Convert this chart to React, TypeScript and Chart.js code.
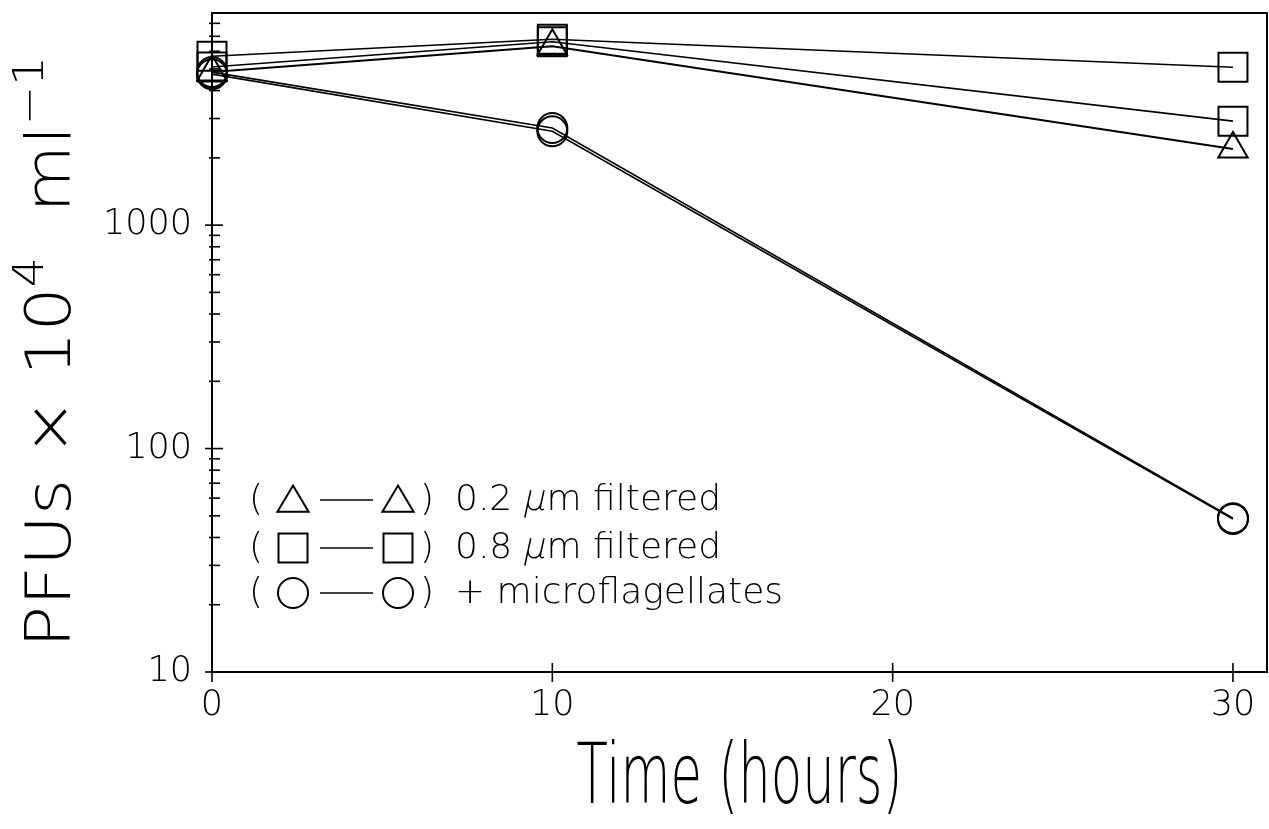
import React, { useEffect, useRef } from 'react';
import { Chart, registerables } from 'chart.js';

Chart.register(...registerables);

// ---- data ----
const hours = [0, 10, 30];
const squareA = [5700, 6790, 5090]; // 0.8 µm filtered, replicate A
const squareB = [5100, 6620, 2920]; // 0.8 µm filtered, replicate B
const triangle = [4840, 6320, 2190]; // 0.2 µm filtered
const circleA = [4840, 2720, 48.8]; // + microflagellates, replicate A
const circleB = [4740, 2630, 48.4]; // + microflagellates, replicate B

const xTickValues = [0, 10, 20, 30];
const yLabelValues = [10, 100, 1000];
const yMinorValues = [20, 30, 40, 50, 60, 70, 80, 90, 200, 300, 400, 500, 600, 700, 800, 900, 2000, 3000, 4000, 5000, 6000, 7000, 8000];

const legendLabels = [
  ['0.2 ', 'μ', 'm filtered'],
  ['0.8 ', 'μ', 'm filtered'],
  ['+ microflagellates', '', ''],
];
const legendShapes = ['triangle', 'rect', 'circle'];
const xTitle = 'Time (hours)';

const FONT = '"DejaVu Sans", "Open Sans", sans-serif';

function shapePath(ctx: CanvasRenderingContext2D, shape: string, x: number, y: number) {
  ctx.beginPath();
  if (shape === 'triangle') {
    const r = 18;
    ctx.moveTo(x, y - r * 0.8);
    ctx.lineTo(x + r * 0.866, y + r * 0.65);
    ctx.lineTo(x - r * 0.866, y + r * 0.65);
    ctx.closePath();
  } else if (shape === 'rect') {
    ctx.rect(x - 14.5, y - 14.5, 29, 29);
  } else {
    ctx.arc(x, y, 15, 0, Math.PI * 2);
  }
  ctx.stroke();
}

type Piece = { text: string; size: number; rise: number };

function drawFitted(ctx: CanvasRenderingContext2D, pieces: Piece[], width: number) {
  const widths: number[] = [];
  let natural = 0;
  for (const p of pieces) {
    ctx.font = `200 ${p.size}px ${FONT}`;
    const w = ctx.measureText(p.text).width;
    widths.push(w);
    natural += w;
  }
  const sx = width / natural;
  ctx.save();
  ctx.scale(sx, 1);
  let x = -natural / 2;
  pieces.forEach((p, i) => {
    ctx.font = `200 ${p.size}px ${FONT}`;
    ctx.fillText(p.text, x, -p.rise);
    x += widths[i];
  });
  ctx.restore();
}

const decorPlugin = {
  id: 'decor',
  afterDraw(chart: any) {
    const { ctx, chartArea, scales } = chart;
    const { left, right, top, bottom } = chartArea;
    const xs = scales.x;
    const ys = scales.y;
    ctx.save();
    ctx.strokeStyle = '#000';
    ctx.fillStyle = '#000';
    // frame
    ctx.lineWidth = 2;
    ctx.strokeRect(left, top, right - left, bottom - top);
    // y ticks (crossing the axis)
    ctx.lineWidth = 1.6;
    for (const v of yLabelValues) {
      const y = ys.getPixelForValue(v);
      ctx.beginPath();
      ctx.moveTo(left - 7, y);
      ctx.lineTo(left + 11, y);
      ctx.stroke();
    }
    for (const v of yMinorValues) {
      const y = ys.getPixelForValue(v);
      ctx.beginPath();
      ctx.moveTo(left - 3, y);
      ctx.lineTo(left + 8, y);
      ctx.stroke();
    }
    for (const v of xTickValues) {
      const x = xs.getPixelForValue(v);
      ctx.beginPath();
      ctx.moveTo(x, bottom - 9);
      ctx.lineTo(x, bottom + 10);
      ctx.stroke();
    }

    // x title
    ctx.textAlign = 'left';
    ctx.textBaseline = 'alphabetic';
    ctx.save();
    ctx.translate((left + right) / 2, 803);
    drawFitted(ctx, [{ text: xTitle, size: 84, rise: 0 }], 326);
    ctx.restore();

    // y title (rotated)
    ctx.save();
    ctx.translate(70, 352);
    ctx.rotate(-Math.PI / 2);
    drawFitted(
      ctx,
      [
        { text: 'PFUs × 10', size: 62, rise: 0 },
        { text: '4', size: 42, rise: 27 },
        { text: '  ml', size: 62, rise: 0 },
        { text: '−1', size: 42, rise: 27 },
      ],
      592
    );
    ctx.restore();

    // legend
    const rowY = [500, 548, 593];
    ctx.lineWidth = 2;
    rowY.forEach((ry, i) => {
      ctx.font = `200 36px ${FONT}`;
      ctx.textBaseline = 'middle';
      ctx.textAlign = 'left';
      ctx.fillText('(', 249, ry + 1);
      shapePath(ctx, legendShapes[i], 293, ry);
      ctx.beginPath();
      ctx.lineWidth = 1.5;
      ctx.moveTo(320, ry);
      ctx.lineTo(373, ry);
      ctx.stroke();
      ctx.lineWidth = 2;
      shapePath(ctx, legendShapes[i], 398, ry);
      ctx.fillText(')', 420, ry + 1);
      let x = 455;
      const parts = legendLabels[i];
      parts.forEach((t, j) => {
        if (!t) return;
        ctx.font = `200 36px ${FONT}`;
        if (j === 1) {
          // slanted (math italic) mu drawn with the light face
          ctx.save();
          ctx.translate(x, ry + 1);
          ctx.transform(1, 0, -0.22, 1, 0, 0);
          ctx.fillText(t, 0, 0);
          ctx.restore();
        } else {
          ctx.fillText(t, x, ry + 1);
        }
        x += ctx.measureText(t).width;
      });
    });
    ctx.restore();
  },
};

function series(label: string, ys: number[], style: string, radius: number, lw: number) {
  return {
    label,
    data: hours.map((x, i) => ({ x, y: ys[i] })),
    borderColor: '#000',
    borderWidth: lw,
    pointStyle: style,
    pointRadius: radius,
    pointBorderWidth: 2,
    pointBorderColor: '#000',
    pointBackgroundColor: 'rgba(0,0,0,0)',
    tension: 0,
    fill: false,
    clip: false as any,
  };
}

export default function App() {
  const ref = useRef<HTMLCanvasElement | null>(null);
  useEffect(() => {
    if (!ref.current) return;
    const chart = new Chart(ref.current, {
      type: 'line',
      data: {
        datasets: [
          series('0.8 µm filtered A', squareA, 'rect', 20.5, 1.6),
          series('0.8 µm filtered B', squareB, 'rect', 20.5, 1.6),
          series('0.2 µm filtered', triangle, 'triangle', 17, 2),
          series('+ microflagellates A', circleA, 'circle', 15, 1.6),
          series('+ microflagellates B', circleB, 'circle', 15, 1.6),
        ] as any,
      },
      options: {
        animation: false,
        responsive: false,
        maintainAspectRatio: false,
        layout: { autoPadding: false, padding: { left: 0, top: 13, right: 2, bottom: 0 } } as any,
        plugins: { legend: { display: false }, tooltip: { enabled: false }, title: { display: false } },
        scales: {
          x: {
            type: 'linear',
            min: 0,
            max: 31,
            afterBuildTicks: (s: any) => {
              s.ticks = xTickValues.map((v) => ({ value: v }));
            },
            afterFit: (s: any) => {
              s.height = 157;
              s.paddingLeft = 0;
              s.paddingRight = 0;
            },
            grid: { display: false, drawTicks: false },
            border: { display: false },
            ticks: {
              color: '#000',
              padding: 13,
              maxRotation: 0,
              autoSkip: false,
              font: { family: FONT, size: 35, weight: '200' as any },
            },
          },
          y: {
            type: 'logarithmic',
            min: 10,
            max: 8900,
            afterBuildTicks: (s: any) => {
              s.ticks = yLabelValues.map((v) => ({ value: v }));
            },
            afterFit: (s: any) => {
              s.width = 212;
              s.paddingTop = 0;
              s.paddingBottom = 0;
            },
            grid: { display: false, drawTicks: false },
            border: { display: false },
            ticks: {
              color: '#000',
              padding: 20,
              autoSkip: false,
              callback: (v: any) => String(v),
              font: { family: FONT, size: 35, weight: '200' as any },
            },
          },
        },
      },
      plugins: [decorPlugin],
    });
    return () => chart.destroy();
  }, []);
  return (
    <div style={{ position: 'absolute', left: 0, top: 0, width: 1269, height: 829, background: '#fff' }}>
      <canvas ref={ref} width={1269} height={829} style={{ display: 'block' }} />
    </div>
  );
}
